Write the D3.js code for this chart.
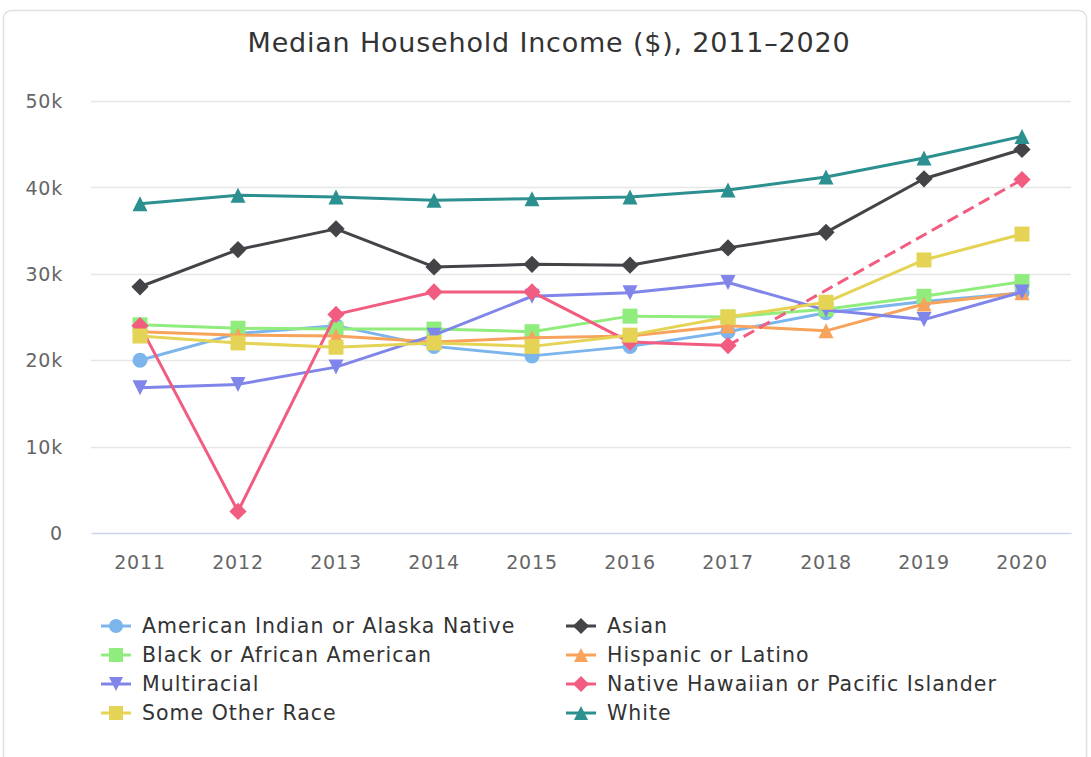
<!DOCTYPE html>
<html>
<head>
<meta charset="utf-8">
<script src="https://cdn.jsdelivr.net/npm/d3@7"></script>
<style>
  html, body { margin: 0; padding: 0; background: #ffffff; }
  svg { display: block; font-family: "DejaVu Sans", "Open Sans", sans-serif; }
</style>
</head>
<body>
<svg id="chart" width="1091" height="757"></svg>
<script>
// Median household income by race/ethnicity, 2011–2020
const years = ["2011", "2012", "2013", "2014", "2015", "2016", "2017", "2018", "2019", "2020"];
const yTicks = [0, 10000, 20000, 30000, 40000, 50000];

const americanIndian = [20000, 23100, 24000, 21600, 20500, 21600, 23300, 25500, 26800, 27800];
const asian          = [28500, 32800, 35200, 30800, 31100, 31000, 33000, 34800, 41000, 44400];
const black          = [24100, 23700, 23600, 23600, 23300, 25100, 25000, 25900, 27400, 29100];
const hispanic       = [23300, 22900, 22800, 22100, 22600, 22800, 24000, 23400, 26500, 27800];
const multiracial    = [16800, 17200, 19200, 22900, 27400, 27800, 29000, 25800, 24700, 27900];
const nativeHawaiian = [24000, 2500, 25300, 27900, 27900, 22100, 21700, null, null, 40900];
const someOther      = [22800, 22000, 21500, 22000, 21600, 22900, 25000, 26700, 31600, 34600];
const white          = [38100, 39100, 38900, 38500, 38700, 38900, 39700, 41200, 43400, 45900];

const seriesNames = [
  "American Indian or Alaska Native", "Asian", "Black or African American",
  "Hispanic or Latino", "Multiracial", "Native Hawaiian or Pacific Islander",
  "Some Other Race", "White"
];
const seriesValues = [americanIndian, asian, black, hispanic, multiracial, nativeHawaiian, someOther, white];
const seriesColors = ["#7cb5ec", "#434348", "#90ed7d", "#f7a35c", "#8085e9", "#f15c80", "#e4d354", "#2b908f"];
const seriesSymbols = ["circle", "diamond", "square", "triangle", "triangleDown", "diamond", "square", "triangle"];

const svg = d3.select("#chart");
const FONT = "'DejaVu Sans', 'Open Sans', sans-serif";

// card frame
svg.append("rect")
  .attr("x", 3.5).attr("y", 10.5).attr("width", 1083).attr("height", 770)
  .attr("rx", 8).attr("ry", 8)
  .attr("fill", "#ffffff").attr("stroke", "#e0e0e0").attr("stroke-width", 1.5);

svg.append("text")
  .attr("x", 549).attr("y", 52)
  .attr("text-anchor", "middle")
  .attr("font-size", 27).attr("letter-spacing", 0.8).attr("fill", "#333333")
  .text("Median Household Income ($), 2011–2020");

const plot = { left: 91, right: 1071, top: 101, bottom: 533 };

const x = d3.scaleBand().domain(years).range([plot.left, plot.right]).padding(0);
const xc = d => x(d) + x.bandwidth() / 2;
const y = d3.scaleLinear().domain([0, 50000]).range([plot.bottom, plot.top]);

// horizontal grid
const grid = svg.append("g");
grid.selectAll("line").data(yTicks.filter(t => t > 0)).join("line")
  .attr("x1", plot.left).attr("x2", plot.right)
  .attr("y1", d => Math.round(y(d)) + 0.5).attr("y2", d => Math.round(y(d)) + 0.5)
  .attr("stroke", "#e6e6e6").attr("stroke-width", 1.5);

// y axis labels
const yAxis = d3.axisLeft(y).tickValues(yTicks).tickSize(0).tickPadding(0)
  .tickFormat(d => d === 0 ? "0" : (d / 1000) + "k");
const yg = svg.append("g").attr("transform", `translate(${plot.left - 28},0)`).call(yAxis);
yg.select(".domain").remove();
yg.selectAll("text").attr("font-size", 19).attr("letter-spacing", 0.8).attr("fill", "#666666")
  .attr("font-family", FONT).attr("dy", "0.35em");

// x axis
const xAxis = d3.axisBottom(x).tickSize(0).tickPadding(0);
const xg = svg.append("g").attr("transform", `translate(0,${plot.bottom})`).call(xAxis);
xg.select(".domain").attr("stroke", "#ccd6eb").attr("stroke-width", 1.5);
xg.selectAll("text").attr("font-size", 19).attr("letter-spacing", 0.8).attr("fill", "#666666")
  .attr("font-family", FONT).attr("y", 36).attr("dy", 0);

// marker shapes
function markerPath(sym, s) {
  const r = s / 2;
  switch (sym) {
    case "circle": return d3.symbol(d3.symbolCircle, Math.PI * r * r)();
    case "square": return `M${-r},${-r}H${r}V${r}H${-r}Z`;
    case "diamond": return `M0,${-r * 1.15}L${r * 1.15},0L0,${r * 1.15}L${-r * 1.15},0Z`;
    case "triangle": return `M0,${-r}L${r},${r}L${-r},${r}Z`;
    case "triangleDown": return `M${-r},${-r}L${r},${-r}L0,${r}Z`;
  }
}

const line = d3.line().x(d => xc(d.year)).y(d => y(d.value)).defined(d => d.value != null);

const seriesG = svg.append("g");
seriesValues.forEach((vals, i) => {
  const pts = years.map((yr, j) => ({ year: yr, value: vals[j] }));
  const g = seriesG.append("g");
  g.append("path").datum(pts)
    .attr("d", line).attr("fill", "none")
    .attr("stroke", seriesColors[i]).attr("stroke-width", 3)
    .attr("stroke-linejoin", "round").attr("stroke-linecap", "round");
  // bridge across missing years with a dashed segment
  const present = pts.filter(p => p.value != null);
  for (let k = 1; k < present.length; k++) {
    const a = present[k - 1], b = present[k];
    if (years.indexOf(b.year) - years.indexOf(a.year) > 1) {
      g.append("path").datum([a, b])
        .attr("d", d3.line().x(d => xc(d.year)).y(d => y(d.value)))
        .attr("fill", "none").attr("stroke", seriesColors[i]).attr("stroke-width", 3)
        .attr("stroke-dasharray", "12,6");
    }
  }
  g.selectAll("path.m").data(present).join("path")
    .attr("class", "m")
    .attr("transform", d => `translate(${xc(d.year)},${y(d.value)})`)
    .attr("d", markerPath(seriesSymbols[i], 15))
    .attr("fill", seriesColors[i]);
});

// legend
const legend = svg.append("g");
seriesNames.forEach((name, i) => {
  const col = i % 2, row = Math.floor(i / 2);
  const lx = 101 + col * 465, ly = 626 + row * 29;
  const g = legend.append("g").attr("transform", `translate(${lx},${ly})`);
  g.append("line").attr("x1", 0).attr("x2", 30).attr("y1", 0).attr("y2", 0)
    .attr("stroke", seriesColors[i]).attr("stroke-width", 3);
  g.append("path").attr("transform", "translate(15,0)")
    .attr("d", markerPath(seriesSymbols[i], 14)).attr("fill", seriesColors[i]);
  g.append("text").attr("x", 41).attr("y", 0).attr("dy", "0.35em")
    .attr("font-size", 20.5).attr("letter-spacing", 1.0)
    .attr("font-family", FONT).attr("fill", "#333333").text(name);
});
</script>
</body>
</html>
